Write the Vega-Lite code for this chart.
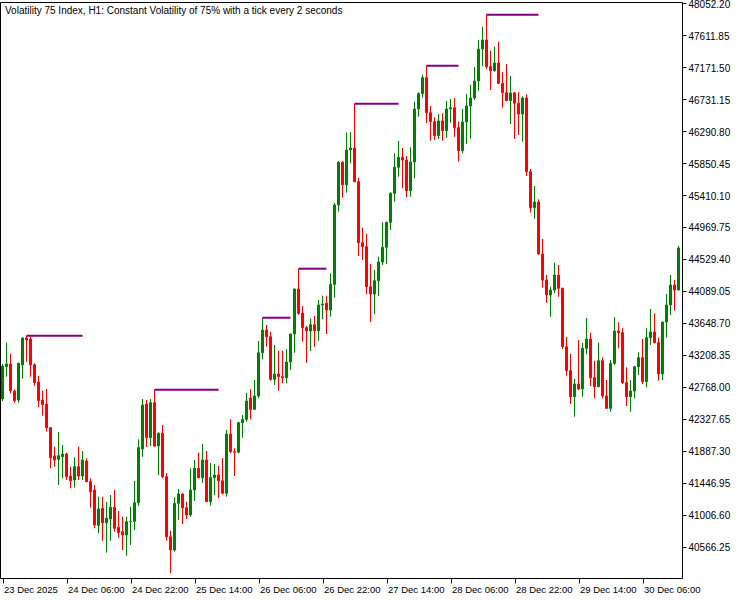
{
  "$schema": "https://vega.github.io/schema/vega-lite/v6.json",
  "width": 682,
  "height": 576,
  "autosize": {"type": "none"},
  "padding": {"left": 0, "top": 2, "right": 58, "bottom": 22},
  "background": "white",
  "title": {
    "text": "Volatility 75 Index, H1:  Constant Volatility of 75% with a tick every 2 seconds",
    "anchor": "start",
    "frame": "group",
    "orient": "top",
    "offset": -17,
    "dx": 5,
    "font": "Liberation Sans",
    "fontSize": 10,
    "fontWeight": "normal",
    "color": "#000000"
  },
  "datasets": {
    "candles": [
      {"t":"2025-12-23T14:00:00Z","o":42599,"h":43082,"l":42572,"c":43054},
      {"t":"2025-12-23T15:00:00Z","o":43044,"h":43375,"l":42907,"c":43082},
      {"t":"2025-12-23T16:00:00Z","o":43082,"h":43224,"l":42678,"c":42714},
      {"t":"2025-12-23T17:00:00Z","o":42709,"h":42733,"l":42548,"c":42576},
      {"t":"2025-12-23T18:00:00Z","o":42585,"h":43100,"l":42548,"c":43091},
      {"t":"2025-12-23T19:00:00Z","o":43068,"h":43445,"l":42879,"c":43440},
      {"t":"2025-12-23T20:00:00Z","o":43440,"h":43471,"l":43113,"c":43412},
      {"t":"2025-12-23T21:00:00Z","o":43426,"h":43458,"l":42907,"c":43068},
      {"t":"2025-12-23T22:00:00Z","o":43070,"h":43091,"l":42783,"c":42824},
      {"t":"2025-12-23T23:00:00Z","o":42834,"h":42916,"l":42485,"c":42576},
      {"t":"2025-12-24T00:00:00Z","o":42585,"h":42714,"l":42369,"c":42521},
      {"t":"2025-12-24T01:00:00Z","o":42530,"h":42737,"l":42149,"c":42204},
      {"t":"2025-12-24T02:00:00Z","o":42204,"h":42210,"l":41644,"c":41790},
      {"t":"2025-12-24T03:00:00Z","o":41814,"h":41942,"l":41666,"c":41759},
      {"t":"2025-12-24T04:00:00Z","o":41768,"h":42144,"l":41414,"c":41818},
      {"t":"2025-12-24T05:00:00Z","o":41804,"h":41965,"l":41506,"c":41841},
      {"t":"2025-12-24T06:00:00Z","o":41841,"h":41859,"l":41483,"c":41528},
      {"t":"2025-12-24T07:00:00Z","o":41538,"h":41666,"l":41368,"c":41473},
      {"t":"2025-12-24T08:00:00Z","o":41483,"h":41796,"l":41377,"c":41666},
      {"t":"2025-12-24T09:00:00Z","o":41666,"h":41942,"l":41483,"c":41538},
      {"t":"2025-12-24T10:00:00Z","o":41538,"h":41883,"l":41483,"c":41759},
      {"t":"2025-12-24T11:00:00Z","o":41745,"h":41782,"l":41455,"c":41459},
      {"t":"2025-12-24T12:00:00Z","o":41459,"h":41506,"l":41101,"c":41322},
      {"t":"2025-12-24T13:00:00Z","o":41345,"h":41414,"l":40817,"c":40863},
      {"t":"2025-12-24T14:00:00Z","o":40859,"h":41253,"l":40748,"c":41083},
      {"t":"2025-12-24T15:00:00Z","o":41093,"h":41253,"l":40646,"c":40894},
      {"t":"2025-12-24T16:00:00Z","o":40894,"h":41180,"l":40481,"c":40955},
      {"t":"2025-12-24T17:00:00Z","o":40945,"h":41276,"l":40646,"c":41107},
      {"t":"2025-12-24T18:00:00Z","o":41107,"h":41345,"l":40770,"c":40817},
      {"t":"2025-12-24T19:00:00Z","o":40831,"h":41056,"l":40688,"c":40757},
      {"t":"2025-12-24T20:00:00Z","o":40770,"h":40977,"l":40518,"c":40725},
      {"t":"2025-12-24T21:00:00Z","o":40725,"h":40977,"l":40440,"c":40908},
      {"t":"2025-12-24T22:00:00Z","o":40908,"h":41115,"l":40587,"c":40914},
      {"t":"2025-12-24T23:00:00Z","o":40914,"h":41469,"l":40794,"c":41170},
      {"t":"2025-12-25T00:00:00Z","o":41170,"h":42044,"l":41125,"c":41928},
      {"t":"2025-12-25T01:00:00Z","o":41910,"h":42599,"l":41804,"c":42517},
      {"t":"2025-12-25T02:00:00Z","o":42530,"h":42585,"l":41942,"c":42066},
      {"t":"2025-12-25T03:00:00Z","o":42066,"h":42599,"l":41951,"c":42548},
      {"t":"2025-12-25T04:00:00Z","o":42548,"h":42727,"l":41942,"c":41951},
      {"t":"2025-12-25T05:00:00Z","o":41951,"h":42140,"l":41552,"c":42127},
      {"t":"2025-12-25T06:00:00Z","o":42127,"h":42241,"l":41506,"c":41528},
      {"t":"2025-12-25T07:00:00Z","o":41528,"h":41575,"l":40646,"c":40701},
      {"t":"2025-12-25T08:00:00Z","o":40701,"h":40784,"l":40197,"c":40518},
      {"t":"2025-12-25T09:00:00Z","o":40518,"h":41244,"l":40495,"c":41162},
      {"t":"2025-12-25T10:00:00Z","o":41162,"h":41359,"l":40932,"c":41290},
      {"t":"2025-12-25T11:00:00Z","o":41290,"h":41300,"l":40876,"c":41101},
      {"t":"2025-12-25T12:00:00Z","o":41101,"h":41184,"l":40945,"c":41000},
      {"t":"2025-12-25T13:00:00Z","o":41000,"h":41644,"l":40977,"c":41345},
      {"t":"2025-12-25T14:00:00Z","o":41345,"h":41759,"l":41193,"c":41644},
      {"t":"2025-12-25T15:00:00Z","o":41644,"h":41859,"l":41506,"c":41515},
      {"t":"2025-12-25T16:00:00Z","o":41515,"h":41979,"l":41442,"c":41759},
      {"t":"2025-12-25T17:00:00Z","o":41759,"h":41883,"l":41180,"c":41184},
      {"t":"2025-12-25T18:00:00Z","o":41184,"h":41717,"l":41129,"c":41515},
      {"t":"2025-12-25T19:00:00Z","o":41515,"h":41703,"l":41276,"c":41552},
      {"t":"2025-12-25T20:00:00Z","o":41552,"h":41676,"l":41231,"c":41473},
      {"t":"2025-12-25T21:00:00Z","o":41473,"h":41786,"l":41285,"c":41300},
      {"t":"2025-12-25T22:00:00Z","o":41300,"h":42172,"l":41253,"c":42117},
      {"t":"2025-12-25T23:00:00Z","o":42117,"h":42319,"l":41851,"c":41873},
      {"t":"2025-12-26T00:00:00Z","o":41873,"h":41920,"l":41538,"c":41866},
      {"t":"2025-12-26T01:00:00Z","o":41866,"h":42286,"l":41851,"c":42273},
      {"t":"2025-12-26T02:00:00Z","o":42273,"h":42379,"l":42066,"c":42319},
      {"t":"2025-12-26T03:00:00Z","o":42319,"h":42682,"l":42286,"c":42572},
      {"t":"2025-12-26T04:00:00Z","o":42613,"h":42733,"l":42319,"c":42457},
      {"t":"2025-12-26T05:00:00Z","o":42457,"h":42861,"l":42448,"c":42641},
      {"t":"2025-12-26T06:00:00Z","o":42641,"h":43399,"l":42609,"c":43237},
      {"t":"2025-12-26T07:00:00Z","o":43237,"h":43719,"l":43146,"c":43550},
      {"t":"2025-12-26T08:00:00Z","o":43550,"h":43619,"l":43320,"c":43458},
      {"t":"2025-12-26T09:00:00Z","o":43458,"h":43527,"l":42851,"c":42871},
      {"t":"2025-12-26T10:00:00Z","o":42871,"h":43343,"l":42792,"c":42944},
      {"t":"2025-12-26T11:00:00Z","o":42944,"h":43265,"l":42714,"c":42907},
      {"t":"2025-12-26T12:00:00Z","o":42907,"h":43265,"l":42816,"c":42893},
      {"t":"2025-12-26T13:00:00Z","o":42893,"h":43284,"l":42816,"c":43109},
      {"t":"2025-12-26T14:00:00Z","o":43109,"h":43500,"l":42999,"c":43495},
      {"t":"2025-12-26T15:00:00Z","o":43495,"h":44120,"l":43237,"c":44115},
      {"t":"2025-12-26T16:00:00Z","o":44115,"h":44395,"l":43757,"c":43780},
      {"t":"2025-12-26T17:00:00Z","o":43780,"h":43881,"l":43389,"c":43582},
      {"t":"2025-12-26T18:00:00Z","o":43582,"h":43605,"l":43100,"c":43536},
      {"t":"2025-12-26T19:00:00Z","o":43536,"h":43711,"l":43261,"c":43623},
      {"t":"2025-12-26T20:00:00Z","o":43623,"h":43743,"l":43320,"c":43540},
      {"t":"2025-12-26T21:00:00Z","o":43540,"h":43964,"l":43403,"c":43895},
      {"t":"2025-12-26T22:00:00Z","o":43895,"h":44023,"l":43698,"c":43908},
      {"t":"2025-12-26T23:00:00Z","o":43918,"h":44023,"l":43495,"c":43826},
      {"t":"2025-12-27T00:00:00Z","o":43826,"h":44332,"l":43733,"c":44180},
      {"t":"2025-12-27T01:00:00Z","o":44180,"h":45305,"l":43995,"c":45273},
      {"t":"2025-12-27T02:00:00Z","o":45273,"h":45879,"l":45181,"c":45861},
      {"t":"2025-12-27T03:00:00Z","o":45861,"h":45879,"l":45374,"c":45553},
      {"t":"2025-12-27T04:00:00Z","o":45553,"h":46269,"l":45442,"c":46031},
      {"t":"2025-12-27T05:00:00Z","o":46031,"h":46279,"l":45848,"c":46059},
      {"t":"2025-12-27T06:00:00Z","o":46059,"h":46669,"l":45590,"c":45594},
      {"t":"2025-12-27T07:00:00Z","o":45594,"h":45649,"l":44570,"c":44753},
      {"t":"2025-12-27T08:00:00Z","o":44753,"h":44960,"l":44515,"c":44698},
      {"t":"2025-12-27T09:00:00Z","o":44698,"h":44877,"l":44042,"c":44147},
      {"t":"2025-12-27T10:00:00Z","o":44147,"h":44460,"l":43660,"c":44046},
      {"t":"2025-12-27T11:00:00Z","o":44046,"h":44377,"l":43771,"c":44230},
      {"t":"2025-12-27T12:00:00Z","o":44230,"h":44560,"l":44019,"c":44487},
      {"t":"2025-12-27T13:00:00Z","o":44487,"h":45035,"l":44446,"c":44690},
      {"t":"2025-12-27T14:00:00Z","o":44690,"h":45040,"l":44460,"c":45035},
      {"t":"2025-12-27T15:00:00Z","o":45035,"h":45448,"l":44928,"c":45434},
      {"t":"2025-12-27T16:00:00Z","o":45434,"h":45985,"l":45318,"c":45793},
      {"t":"2025-12-27T17:00:00Z","o":45793,"h":46155,"l":45663,"c":45930},
      {"t":"2025-12-27T18:00:00Z","o":45930,"h":46059,"l":45503,"c":45893},
      {"t":"2025-12-27T19:00:00Z","o":45893,"h":45948,"l":45379,"c":45470},
      {"t":"2025-12-27T20:00:00Z","o":45470,"h":46068,"l":45387,"c":45866},
      {"t":"2025-12-27T21:00:00Z","o":45866,"h":46697,"l":45641,"c":46596},
      {"t":"2025-12-27T22:00:00Z","o":46596,"h":46826,"l":46490,"c":46807},
      {"t":"2025-12-27T23:00:00Z","o":46807,"h":47069,"l":46752,"c":47027},
      {"t":"2025-12-28T00:00:00Z","o":47027,"h":47193,"l":46399,"c":46545},
      {"t":"2025-12-28T01:00:00Z","o":46545,"h":46637,"l":46159,"c":46421},
      {"t":"2025-12-28T02:00:00Z","o":46421,"h":46482,"l":46169,"c":46228},
      {"t":"2025-12-28T03:00:00Z","o":46228,"h":46527,"l":46182,"c":46431},
      {"t":"2025-12-28T04:00:00Z","o":46431,"h":46537,"l":46159,"c":46297},
      {"t":"2025-12-28T05:00:00Z","o":46297,"h":46706,"l":46200,"c":46596},
      {"t":"2025-12-28T06:00:00Z","o":46596,"h":46734,"l":46407,"c":46614},
      {"t":"2025-12-28T07:00:00Z","o":46614,"h":46748,"l":46214,"c":46338},
      {"t":"2025-12-28T08:00:00Z","o":46338,"h":46421,"l":45870,"c":46021},
      {"t":"2025-12-28T09:00:00Z","o":46021,"h":46596,"l":45985,"c":46417},
      {"t":"2025-12-28T10:00:00Z","o":46417,"h":46803,"l":46114,"c":46637},
      {"t":"2025-12-28T11:00:00Z","o":46637,"h":46927,"l":46187,"c":46748},
      {"t":"2025-12-28T12:00:00Z","o":46748,"h":47175,"l":46720,"c":46982},
      {"t":"2025-12-28T13:00:00Z","o":46982,"h":47547,"l":46848,"c":47423},
      {"t":"2025-12-28T14:00:00Z","o":47423,"h":47730,"l":47189,"c":47547},
      {"t":"2025-12-28T15:00:00Z","o":47547,"h":47896,"l":47143,"c":47179},
      {"t":"2025-12-28T16:00:00Z","o":47179,"h":47400,"l":46858,"c":47124},
      {"t":"2025-12-28T17:00:00Z","o":47124,"h":47455,"l":47110,"c":47230},
      {"t":"2025-12-28T18:00:00Z","o":47230,"h":47524,"l":46940,"c":46950},
      {"t":"2025-12-28T19:00:00Z","o":46950,"h":47106,"l":46614,"c":46821},
      {"t":"2025-12-28T20:00:00Z","o":46821,"h":47216,"l":46705,"c":46710},
      {"t":"2025-12-28T21:00:00Z","o":46710,"h":47051,"l":46389,"c":46817},
      {"t":"2025-12-28T22:00:00Z","o":46817,"h":46830,"l":46183,"c":46675},
      {"t":"2025-12-28T23:00:00Z","o":46675,"h":46826,"l":46238,"c":46527},
      {"t":"2025-12-29T00:00:00Z","o":46527,"h":46771,"l":46145,"c":46748},
      {"t":"2025-12-29T01:00:00Z","o":46748,"h":46799,"l":45673,"c":45732},
      {"t":"2025-12-29T02:00:00Z","o":45732,"h":45769,"l":45167,"c":45236},
      {"t":"2025-12-29T03:00:00Z","o":45236,"h":45535,"l":45084,"c":45314},
      {"t":"2025-12-29T04:00:00Z","o":45314,"h":45351,"l":44590,"c":44598},
      {"t":"2025-12-29T05:00:00Z","o":44598,"h":44804,"l":44133,"c":44239},
      {"t":"2025-12-29T06:00:00Z","o":44239,"h":44308,"l":43926,"c":44033},
      {"t":"2025-12-29T07:00:00Z","o":44033,"h":44147,"l":43733,"c":44101},
      {"t":"2025-12-29T08:00:00Z","o":44101,"h":44478,"l":44056,"c":44308},
      {"t":"2025-12-29T09:00:00Z","o":44308,"h":44446,"l":44009,"c":44125},
      {"t":"2025-12-29T10:00:00Z","o":44125,"h":44133,"l":43288,"c":43320},
      {"t":"2025-12-29T11:00:00Z","o":43320,"h":43454,"l":42920,"c":42990},
      {"t":"2025-12-29T12:00:00Z","o":42990,"h":43219,"l":42530,"c":42631},
      {"t":"2025-12-29T13:00:00Z","o":42631,"h":42875,"l":42355,"c":42806},
      {"t":"2025-12-29T14:00:00Z","o":42806,"h":43412,"l":42723,"c":42737},
      {"t":"2025-12-29T15:00:00Z","o":42737,"h":43375,"l":42631,"c":43298},
      {"t":"2025-12-29T16:00:00Z","o":43298,"h":43716,"l":43215,"c":43426},
      {"t":"2025-12-29T17:00:00Z","o":43426,"h":43513,"l":42778,"c":42893},
      {"t":"2025-12-29T18:00:00Z","o":42893,"h":43127,"l":42609,"c":42769},
      {"t":"2025-12-29T19:00:00Z","o":42769,"h":43375,"l":42760,"c":43127},
      {"t":"2025-12-29T20:00:00Z","o":43127,"h":43174,"l":42609,"c":42641},
      {"t":"2025-12-29T21:00:00Z","o":42641,"h":42861,"l":42465,"c":42471},
      {"t":"2025-12-29T22:00:00Z","o":42471,"h":43137,"l":42424,"c":43091},
      {"t":"2025-12-29T23:00:00Z","o":43091,"h":43725,"l":43068,"c":43536},
      {"t":"2025-12-30T00:00:00Z","o":43536,"h":43656,"l":43298,"c":43513},
      {"t":"2025-12-30T01:00:00Z","o":43513,"h":43574,"l":42806,"c":42824},
      {"t":"2025-12-30T02:00:00Z","o":42824,"h":43036,"l":42503,"c":42631},
      {"t":"2025-12-30T03:00:00Z","o":42631,"h":42861,"l":42424,"c":42709},
      {"t":"2025-12-30T04:00:00Z","o":42709,"h":43054,"l":42609,"c":43044},
      {"t":"2025-12-30T05:00:00Z","o":43044,"h":43243,"l":42930,"c":43168},
      {"t":"2025-12-30T06:00:00Z","o":43168,"h":43426,"l":42806,"c":42838},
      {"t":"2025-12-30T07:00:00Z","o":42838,"h":43574,"l":42760,"c":43444},
      {"t":"2025-12-30T08:00:00Z","o":43444,"h":43840,"l":43343,"c":43523},
      {"t":"2025-12-30T09:00:00Z","o":43523,"h":43780,"l":43367,"c":43375},
      {"t":"2025-12-30T10:00:00Z","o":43375,"h":43444,"l":42851,"c":42944},
      {"t":"2025-12-30T11:00:00Z","o":42944,"h":43665,"l":42861,"c":43660},
      {"t":"2025-12-30T12:00:00Z","o":43660,"h":44046,"l":43444,"c":43895},
      {"t":"2025-12-30T13:00:00Z","o":43895,"h":44308,"l":43757,"c":44170},
      {"t":"2025-12-30T14:00:00Z","o":44170,"h":44239,"l":43816,"c":44101},
      {"t":"2025-12-30T15:00:00Z","o":44101,"h":44708,"l":44095,"c":44680}
    ],
    "levels": [
      {"t0":"2025-12-23T20:00:00Z","t1":"2025-12-24T10:00:00Z","p":43471},
      {"t0":"2025-12-25T04:00:00Z","t1":"2025-12-25T20:00:00Z","p":42727},
      {"t0":"2025-12-26T07:00:00Z","t1":"2025-12-26T14:00:00Z","p":43719},
      {"t0":"2025-12-26T16:00:00Z","t1":"2025-12-26T23:00:00Z","p":44395},
      {"t0":"2025-12-27T06:00:00Z","t1":"2025-12-27T17:00:00Z","p":46669},
      {"t0":"2025-12-28T00:00:00Z","t1":"2025-12-28T08:00:00Z","p":47193},
      {"t0":"2025-12-28T15:00:00Z","t1":"2025-12-29T04:00:00Z","p":47896}
    ]
  },
  "layer": [
    {
      "data": {"name": "candles"},
      "mark": {"type": "rule", "strokeWidth": 1},
      "encoding": {
        "x": {
          "field": "t", "type": "temporal",
          "scale": {"type": "utc", "nice": false, "padding": 0, "domain": [
            {"year": 2025, "month": 12, "date": 23, "hours": 13, "minutes": 22, "seconds": 30, "utc": true},
            {"year": 2025, "month": 12, "date": 30, "hours": 15, "minutes": 52, "seconds": 30, "utc": true}
          ]},
          "axis": {
            "orient": "bottom",
            "values": [
              {"year": 2025, "month": 12, "date": 23, "hours": 14, "utc": true},
              {"year": 2025, "month": 12, "date": 24, "hours": 6, "utc": true},
              {"year": 2025, "month": 12, "date": 24, "hours": 22, "utc": true},
              {"year": 2025, "month": 12, "date": 25, "hours": 14, "utc": true},
              {"year": 2025, "month": 12, "date": 26, "hours": 6, "utc": true},
              {"year": 2025, "month": 12, "date": 26, "hours": 22, "utc": true},
              {"year": 2025, "month": 12, "date": 27, "hours": 14, "utc": true},
              {"year": 2025, "month": 12, "date": 28, "hours": 6, "utc": true},
              {"year": 2025, "month": 12, "date": 28, "hours": 22, "utc": true},
              {"year": 2025, "month": 12, "date": 29, "hours": 14, "utc": true},
              {"year": 2025, "month": 12, "date": 30, "hours": 6, "utc": true}
            ],
            "labelExpr": "utcFormat(datum.value, '%d %H') == '23 14' ? '23 Dec 2025' : utcFormat(datum.value, '%d %b %H:%M')",
            "labelAlign": "left",
            "labelBaseline": "top",
            "labelPadding": 1,
            "labelOffset": 1,
            "labelFontSize": 9.5,
            "tickSize": 5,
            "labelOverlap": false,
            "labelBound": false,
            "labelFlush": false,
            "grid": false,
            "title": null
          }
        },
        "y": {
          "field": "l", "type": "quantitative",
          "scale": {"zero": false, "nice": false, "padding": 0, "domain": [40132.2, 48070.6]},
          "axis": {
            "orient": "right",
            "values": [40566.25, 41006.6, 41446.95, 41887.3, 42327.65, 42768, 43208.35, 43648.7, 44089.05, 44529.4, 44969.75, 45410.1, 45850.45, 46290.8, 46731.15, 47171.5, 47611.85, 48052.2],
            "format": ".2f",
            "labelAlign": "left",
            "labelBaseline": "middle",
            "labelPadding": 2,
            "labelOffset": 1,
            "tickSize": 4,
            "labelOverlap": false,
            "labelBound": false,
            "labelFlush": false,
            "grid": false,
            "title": null
          }
        },
        "y2": {"field": "h"},
        "color": {"condition": {"test": "datum.c >= datum.o", "value": "#008000"}, "value": "#ff0000"}
      }
    },
    {
      "data": {"name": "candles"},
      "mark": {"type": "bar", "width": 2, "strokeWidth": 1},
      "encoding": {
        "x": {"field": "t", "type": "temporal", "axis": {"orient": "top", "labels": false, "ticks": false, "domain": true, "grid": false, "title": null}},
        "y": {"field": "o", "type": "quantitative", "axis": {"orient": "left", "labels": false, "ticks": false, "domain": true, "grid": false, "title": null}},
        "y2": {"field": "c"},
        "fill": {"condition": {"test": "datum.c >= datum.o", "value": "#008000"}, "value": "#ff0000"},
        "stroke": {"condition": {"test": "datum.c >= datum.o", "value": "#008000"}, "value": "#ff0000"}
      }
    },
    {
      "data": {"name": "levels"},
      "mark": {"type": "rule", "strokeWidth": 2, "color": "#800080"},
      "encoding": {
        "x": {"field": "t0", "type": "temporal", "axis": null},
        "x2": {"field": "t1"},
        "y": {"field": "p", "type": "quantitative", "axis": null}
      }
    }
  ],
  "resolve": {"axis": {"x": "independent", "y": "independent"}},
  "config": {
    "view": {"stroke": null},
    "axis": {
      "labelFont": "Liberation Sans",
      "labelFontSize": 10,
      "labelColor": "#000000",
      "tickColor": "#000000",
      "domainColor": "#000000",
      "domainWidth": 1,
      "tickWidth": 1
    }
  }
}
